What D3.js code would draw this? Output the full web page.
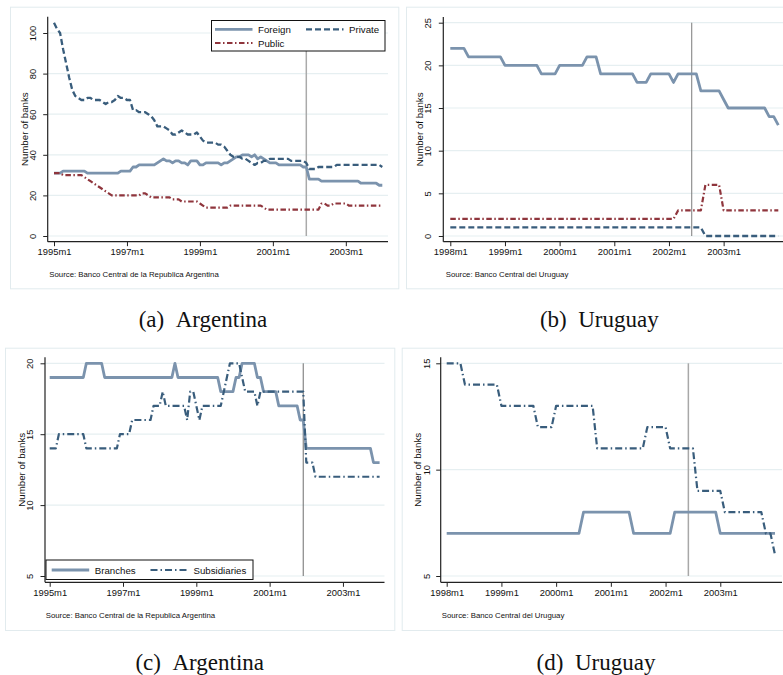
<!DOCTYPE html>
<html><head><meta charset="utf-8">
<script src="https://cdn.jsdelivr.net/npm/d3@7/dist/d3.min.js"></script>
<style>body{margin:0;background:#fff}svg{display:block}</style>
</head><body>
<svg id="chart" width="783" height="675"></svg>
<script>
// ---------- DATA ----------
// Argentina: monthly 1995m1 .. 2004m1 (109 months)
const foreignA = [31,31,31,32,32,32,32,32,32,32,32,31,31,31,31,31,31,31,31,31,31,31,32,32,32,32,34,34,35,35,35,35,35,35,
  36,37,38,37,37,36,37,37,36,36,35,37,37,37,35,35,36,36,36,36,36,35,36,36,37,38,39,39,40,40,40,39,40,38,39,38,37,36,36,36,
  35,35,35,35,35,35,35,35,34,34,28,28,28,28,27,27,27,27,27,27,27,27,27,27,27,27,27,26,26,26,26,26,26,25,25];
const privateA = [105,102,100,92,85,78,72,69,68,67,67,68,68,67,67,67,66,65,66,66,67,69,68,68,67,67,62,62,61,61,61,60,59,57,
  54,54,54,53,52,50,50,51,52,51,50,50,50,51,49,47,46,46,46,46,45,45,44,42,40,39,39,39,38,38,37,36,35,36,36,37,37,38,38,38,
  38,38,38,38,37,37,37,37,37,36,33,33,33,34,34,34,34,34,34,35,35,35,35,35,35,35,35,35,35,35,35,35,35,35,34];
const publicA = [31,31,31,30,30,30,30,30,30,30,29,28,27,26,25,24,23,22,21,20,20,20,20,20,20,20,20,20,20,21,21,20,19,19,
  19,19,19,19,19,18,18,18,17,17,17,17,17,17,16,15,14,14,14,14,14,14,14,14,15,15,15,15,15,15,15,15,15,15,15,14,13,13,13,13,
  13,13,13,13,13,13,13,13,13,13,13,13,13,13,16,16,15,15,16,16,16,16,16,15,15,15,15,15,15,15,15,15,15,15,15];
const branchesA = [19,19,19,19,19,19,19,19,19,19,19,19,20,20,20,20,20,20,19,19,19,19,19,19,19,19,19,19,19,19,19,19,19,19,
  19,19,19,19,19,19,19,20,19,19,19,19,19,19,19,19,19,19,19,19,19,19,18,18,18,18,18,19,19,20,20,20,20,20,19,19,18,18,18,18,
  18,17,17,17,17,17,17,17,16,16,14,14,14,14,14,14,14,14,14,14,14,14,14,14,14,14,14,14,14,14,14,14,13,13,13];
const subsidiariesA = [14,14,14,15,15,15,15,15,15,15,15,15,14,14,14,14,14,14,14,14,14,14,14,15,15,15,15,16,16,16,16,16,16,16,
  17,17,17,18,17,17,17,17,17,17,17,16,18,18,17,16,17,17,17,17,17,17,17,18,19,20,20,20,20,19,18,18,18,18,17,18,18,18,18,18,
  18,18,18,18,18,18,18,18,18,18,13,13,13,12,12,12,12,12,12,12,12,12,12,12,12,12,12,12,12,12,12,12,12,12,12];
// Uruguay: monthly 1998m1 .. 2004m1 (73 months)
const foreignU = [22,22,22,22,21,21,21,21,21,21,21,21,20,20,20,20,20,20,20,20,19,19,19,19,20,20,20,20,20,20,21,21,21,
  19,19,19,19,19,19,19,19,18,18,18,19,19,19,19,19,18,19,19,19,19,19,17,17,17,17,17,16,15,15,15,15,15,15,15,15,15,14,14,13];
const privateU = [1,1,1,1,1,1,1,1,1,1,1,1,1,1,1,1,1,1,1,1,1,1,1,1,1,1,1,1,1,1,1,1,1,1,1,1,1,1,1,1,1,1,1,1,1,1,1,1,1,1,1,1,1,1,1,1,
  0,0,0,0,0,0,0,0,0,0,0,0,0,0,0,0,0];
const publicU = [2,2,2,2,2,2,2,2,2,2,2,2,2,2,2,2,2,2,2,2,2,2,2,2,2,2,2,2,2,2,2,2,2,2,2,2,2,2,2,2,2,2,2,2,2,2,2,2,2,2,
  3,3,3,3,3,3,6,6,6,6,3,3,3,3,3,3,3,3,3,3,3,3,3];
const branchesU = [7,7,7,7,7,7,7,7,7,7,7,7,7,7,7,7,7,7,7,7,7,7,7,7,7,7,7,7,7,7,8,8,8,8,8,8,8,8,8,8,8,
  7,7,7,7,7,7,7,7,7,8,8,8,8,8,8,8,8,8,8,7,7,7,7,7,7,7,7,7,7,7,7,7];
const subsidiariesU = [15,15,15,15,14,14,14,14,14,14,14,14,13,13,13,13,13,13,13,13,12,12,12,12,13,13,13,13,13,13,13,13,13,
  11,11,11,11,11,11,11,11,11,11,11,12,12,12,12,12,11,11,11,11,11,11,9,9,9,9,9,9,8,8,8,8,8,8,8,8,8,7,7,6];

// tick labels (month index from series start)
const xTickMonthsA = [0,24,48,72,96];
const xTickLabelsA = ["1995m1","1997m1","1999m1","2001m1","2003m1"];
const xTickMonthsU = [0,12,24,36,48,60];
const xTickLabelsU = ["1998m1","1999m1","2000m1","2001m1","2002m1","2003m1"];
const yTicksA1 = [0,20,40,60,80,100];
const yTicksU1 = [0,5,10,15,20,25];
const yTicksA2 = [5,10,15,20];
const yTicksU2 = [5,10,15];
const crisisMonthA = 83;   // 2001m12
const crisisMonthU = 53;   // 2002m6
const captions = ["(a)\u00a0\u00a0Argentina","(b)\u00a0\u00a0Uruguay","(c)\u00a0\u00a0Argentina","(d)\u00a0\u00a0Uruguay"];
const sourceA = "Source: Banco Central de la Republica Argentina";
const sourceU = "Source: Banco Central del Uruguay";
const yTitle = "Number of banks";

// ---------- STYLES ----------
const SANS = "'Liberation Sans', Arial, Helvetica, sans-serif";
const SERIF = "'Liberation Serif', 'Times New Roman', serif";
const styles = {
  foreign: {stroke:"#7b93ad", width:2.8, dash:null},
  private: {stroke:"#395d7c", width:2.3, dash:"6,3"},
  public: {stroke:"#8f353c", width:2.2, dash:"5.5,2.5,1.5,2.5"},
  subs: {stroke:"#395d7c", width:2.2, dash:"7,3,1.5,3"}
};

const svg = d3.select("#chart");

function panel(cfg){
  const g = svg.append("g");
  // outer frame
  g.append("rect").attr("x",cfg.frame[0]+0.5).attr("y",cfg.frame[1]+0.5)
    .attr("width",cfg.frame[2]-cfg.frame[0]).attr("height",cfg.frame[3]-cfg.frame[1])
    .attr("fill","none").attr("stroke","#e2ebee").attr("stroke-width",1);
  const x = d3.scaleLinear().domain([0,cfg.nMonths-1]).range(cfg.xRange);
  const y = d3.scaleLinear().domain(cfg.yDomain).range(cfg.yRange);
  // gridlines
  g.append("g").selectAll("line").data(cfg.yTicks).join("line")
    .attr("x1",cfg.axisX).attr("x2",cfg.right).attr("y1",d=>y(d)).attr("y2",d=>y(d))
    .attr("stroke","#e6eff1").attr("stroke-width",1.2);
  // crisis line
  g.append("line").attr("x1",x(cfg.crisis)).attr("x2",x(cfg.crisis))
    .attr("y1",y(cfg.yDomain[0])).attr("y2",y(cfg.yDomain[1]))
    .attr("stroke",cfg.crisisColor).attr("stroke-width",cfg.crisisWidth);
  // series
  const line = d3.line().x((d,i)=>x(i)).y(d=>y(d));
  cfg.series.forEach(s=>{
    const st = styles[s.style];
    g.append("path").datum(s.values).attr("d",line).attr("fill","none")
      .attr("stroke",st.stroke).attr("stroke-width",st.width)
      .attr("stroke-linejoin","round")
      .attr("stroke-dasharray",st.dash);
  });
  // axes
  const ya = d3.axisLeft(y).tickValues(cfg.yTicks).tickSize(4.5).tickSizeOuter(0).tickFormat(d3.format("d"));
  const yg = g.append("g").attr("transform",`translate(${cfg.axisX},0)`).call(ya);
  yg.select(".domain").remove();
  yg.selectAll(".tick line").attr("stroke","#222").attr("stroke-width",1);
  yg.selectAll(".tick text").attr("x",null).attr("dy",null).attr("text-anchor","middle")
    .attr("transform",`translate(${-cfg.yLabOff},0) rotate(-90)`)
    .style("font-family",SANS).style("font-size","9.4px").attr("fill","#111");
  g.append("line").attr("x1",cfg.axisX).attr("x2",cfg.axisX).attr("y1",cfg.top).attr("y2",cfg.bottom)
    .attr("stroke","#222").attr("stroke-width",1.2);
  const xa = d3.axisBottom(x).tickValues(cfg.xTickMonths).tickSize(4.5).tickSizeOuter(0)
    .tickFormat((d,i)=>cfg.xTickLabels[i]);
  const xg = g.append("g").attr("transform",`translate(0,${cfg.bottom})`).call(xa);
  xg.select(".domain").remove();
  xg.selectAll(".tick line").attr("stroke","#222").attr("stroke-width",1);
  xg.selectAll(".tick text").attr("y",13.3).attr("dy",null)
    .style("font-family",SANS).style("font-size","9.4px").attr("fill","#111");
  g.append("line").attr("x1",cfg.axisX).attr("x2",cfg.right).attr("y1",cfg.bottom).attr("y2",cfg.bottom)
    .attr("stroke","#222").attr("stroke-width",1.2);
  // y title
  g.append("text").attr("transform",`translate(${cfg.yTitleX},${(cfg.top+cfg.bottom)/2}) rotate(-90)`)
    .attr("text-anchor","middle").style("font-family",SANS).style("font-size","9.7px").attr("fill","#111")
    .text(yTitle);
  // source note
  g.append("text").attr("x",cfg.srcX).attr("y",cfg.bottom+35.3)
    .style("font-family",SANS).style("font-size","7.8px").attr("fill","#111").text(cfg.source);
  // caption
  g.append("text").attr("x",cfg.capX).attr("y",cfg.capY).attr("text-anchor","middle")
    .style("font-family",SERIF).style("font-size","23px").attr("fill","#111").text(cfg.caption);
  // legend
  if(cfg.legend){
    const L = cfg.legend;
    const lg = g.append("g");
    lg.append("rect").attr("x",L.box[0]).attr("y",L.box[1]).attr("width",L.box[2]-L.box[0]).attr("height",L.box[3]-L.box[1])
      .attr("fill","#fff").attr("stroke","#111").attr("stroke-width",1);
    L.items.forEach(it=>{
      const st = styles[it.style];
      lg.append("line").attr("x1",it.x).attr("x2",it.x+37.5).attr("y1",it.y).attr("y2",it.y)
        .attr("stroke",st.stroke).attr("stroke-width",st.width).attr("stroke-dasharray",st.dash);
      lg.append("text").attr("x",it.x+43).attr("y",it.y+3.5)
        .style("font-family",SANS).style("font-size","9.7px").attr("fill","#111").text(it.label);
    });
  }
}

panel({frame:[10,6.7,398.3,288.3], nMonths:109, xRange:[54,382.3], yDomain:[0,100], yRange:[236,33],
  axisX:47.7, top:16.7, bottom:241.7, right:388, yTicks:yTicksA1, xTickMonths:xTickMonthsA, xTickLabels:xTickLabelsA,
  yLabOff:11.5, yTitleX:27.8, srcX:49.3, source:sourceA, capX:203, capY:326.5, caption:captions[0],
  crisis:crisisMonthA, crisisColor:"#aaaaaa", crisisWidth:1.5,
  series:[{values:foreignA,style:"foreign"},{values:privateA,style:"private"},{values:publicA,style:"public"}],
  legend:{box:[211.5,20.5,385,51], items:[{x:215,y:29.3,style:"foreign",label:"Foreign"},
    {x:306,y:29.3,style:"private",label:"Private"},{x:215,y:43,style:"public",label:"Public"}]}
});
panel({frame:[406,6.7,795,288.3], nMonths:73, xRange:[450.3,778.3], yDomain:[0,25], yRange:[236,22.7],
  axisX:443.3, top:17, bottom:241.7, right:783, yTicks:yTicksU1, xTickMonths:xTickMonthsU, xTickLabels:xTickLabelsU,
  yLabOff:12.8, yTitleX:423.3, srcX:445.7, source:sourceU, capX:599.3, capY:326.5, caption:captions[1],
  crisis:crisisMonthU, crisisColor:"#7a7a7a", crisisWidth:1,
  series:[{values:foreignU,style:"foreign"},{values:privateU,style:"private"},{values:publicU,style:"public"}]
});
panel({frame:[5,347.7,394.3,630], nMonths:109, xRange:[49.7,379.6], yDomain:[5,20], yRange:[576,363.3],
  axisX:45, top:357.3, bottom:582.3, right:384.5, yTicks:yTicksA2, xTickMonths:xTickMonthsA, xTickLabels:xTickLabelsA,
  yLabOff:12.3, yTitleX:24.5, srcX:45.7, source:sourceA, capX:199.7, capY:669.5, caption:captions[2],
  crisis:crisisMonthA, crisisColor:"#6e6e6e", crisisWidth:1,
  series:[{values:branchesA,style:"foreign"},{values:subsidiariesA,style:"subs"}],
  legend:{box:[46,560,253,579.5], items:[{x:51.7,y:570,style:"foreign",label:"Branches"},
    {x:150.5,y:570,style:"subs",label:"Subsidiaries"}]}
});
panel({frame:[401.7,347.7,790,630], nMonths:73, xRange:[446.7,775], yDomain:[5,15], yRange:[576,363.3],
  axisX:440.7, top:357.3, bottom:582.3, right:782, yTicks:yTicksU2, xTickMonths:xTickMonthsU, xTickLabels:xTickLabelsU,
  yLabOff:10.7, yTitleX:420.5, srcX:441.7, source:sourceU, capX:596, capY:669.5, caption:captions[3],
  crisis:crisisMonthU, crisisColor:"#a8a8a8", crisisWidth:1.5,
  series:[{values:branchesU,style:"foreign"},{values:subsidiariesU,style:"subs"}]
});
</script>
</body></html>
